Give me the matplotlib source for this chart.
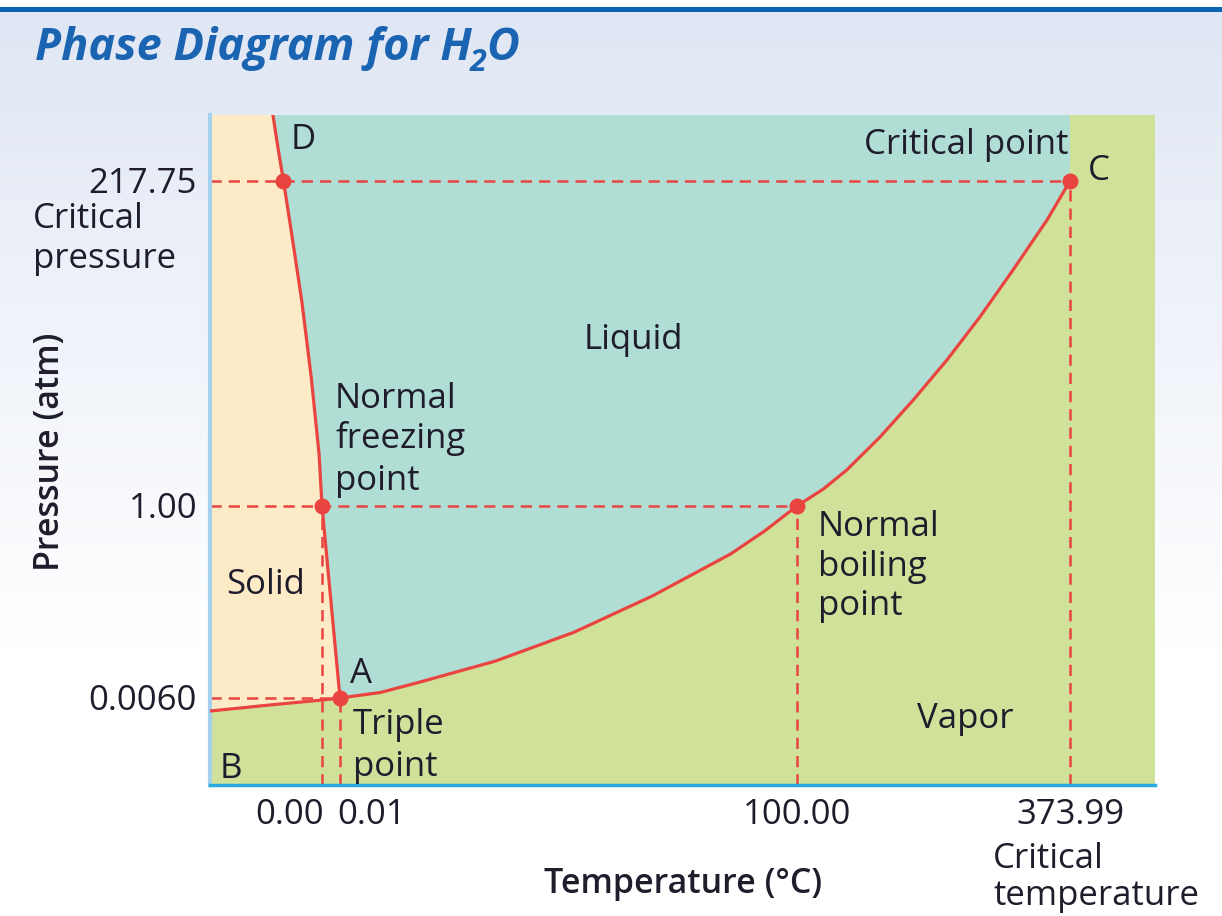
import numpy as np
import matplotlib
matplotlib.use("Agg")
import matplotlib.pyplot as plt

# ---------------- data ----------------
temp_ticks = [0.00, 0.01, 100.00, 373.99]
temp_tick_labels = ["0.00", "0.01", "100.00", "373.99"]
pres_ticks = [0.0060, 1.00, 217.75]
pres_tick_labels = ["0.0060", "1.00", "217.75"]

# marked points (temperature degC, pressure atm)
point_T = [-3.44, 0.00, 0.01, 100.00, 373.99]
point_P = [217.75, 1.00, 0.0060, 1.00, 217.75]

# phase boundaries
fusion_T = [-4.38, -3.93, -3.44, -2.83, -1.80, -0.955, -0.259, 0.00, 0.01]
fusion_P = [260.0, 238.9, 217.75, 188.5, 137.5, 86.4, 35.4, 1.00, 0.0060]

sublimation_T = [-10.0, -7.32, -4.64, 0.00, 0.01]
sublimation_P = [0.00510, 0.00531, 0.00552, 0.00586, 0.0060]

vapor_T = [0.01, 8.83, 16.84, 34.01, 51.17, 68.34, 85.50, 92.94, 100.0,
           126.4, 149.9, 183.3, 216.7, 250.5, 283.7, 316.8, 350.9, 373.99]
vapor_P = [0.0060, 0.0345, 0.0842, 0.197, 0.346, 0.534, 0.752, 0.871, 1.00,
           12.3, 25.0, 47.0, 71.7, 98.4, 127.2, 158.4, 191.7, 217.75]

T_MIN, T_MAX = -10.0, 400.0
P_MIN, P_MAX = 0.0, 260.0

# ---------------- schematic (non-linear) axis warps ----------------
T_anchor = [T_MIN, 0.00, 0.01, 100.00, 373.99, T_MAX]
T_screen = [0, 112, 130, 587, 860, 945]
P_anchor = [P_MIN, 0.0060, 1.00, 217.75, P_MAX]
P_screen = [0, 87, 279, 604, 670]

def fx(v):
    return np.interp(v, T_anchor, T_screen)
def ix(v):
    return np.interp(v, T_screen, T_anchor)
def fy(v):
    return np.interp(v, P_anchor, P_screen)
def iy(v):
    return np.interp(v, P_screen, P_anchor)

# ---------------- style ----------------
W, H = 1222, 916
RED = "#EA4440"
SOLID = "#FDEBC8"
LIQUID = "#B0DED4"
VAPOR = "#D0E29A"
TXT = "#1F1C2C"
FONT = "Open Sans"
FS = 25

plt.rcParams['font.family'] = [FONT, 'DejaVu Sans']

fig = plt.figure(figsize=(W / 100, H / 100), dpi=100)

# background gradient
bg = fig.add_axes([0, 0, 1, 1], zorder=-5)
bg.set_xlim(0, W)
bg.set_ylim(H, 0)
bg.axis('off')
rows = np.arange(H)
t = np.clip((rows - 12) / (650 - 12), 0, 1)[:, None]
top = np.array([224, 231, 244]) / 255.0
grad = top * (1 - t) + np.ones(3) * t
grad[:7] = 1.0
bg.imshow(grad[:, None, :], extent=(0, W, H, 0), aspect='auto', interpolation='bilinear')
bg.axhspan(7, 12, color="#0B64B0", lw=0)

# main axes
L, R, B, T_ = 210, 1155, 785, 115
ax = fig.add_axes([L / W, 1 - B / H, (R - L) / W, (B - T_) / H], zorder=1)
ax.set_xscale('function', functions=(fx, ix))
ax.set_yscale('function', functions=(fy, iy))
ax.set_xlim(T_MIN, T_MAX)
ax.set_ylim(P_MIN, P_MAX)
ax.set_facecolor(VAPOR)
ax.set_xticks([])
ax.set_yticks([])
ax.minorticks_off()
for s in ['top', 'right']:
    ax.spines[s].set_visible(False)
ax.spines['left'].set_color("#A4D2EE")
ax.spines['left'].set_linewidth(3)
ax.spines['bottom'].set_color("#2AA8E0")
ax.spines['bottom'].set_linewidth(2.5)

# solid region
solid_T = [T_MIN] + fusion_T + sublimation_T[::-1]
solid_P = [P_MAX] + fusion_P + sublimation_P[::-1]
ax.fill(solid_T, solid_P, color=SOLID, lw=0, zorder=1)
# liquid region
liq_T = fusion_T + vapor_T[1:] + [vapor_T[-1]]
liq_P = fusion_P + vapor_P[1:] + [P_MAX]
ax.fill(liq_T, liq_P, color=LIQUID, lw=0, zorder=1)

# guide lines
dash = (0, (4.5, 2.8))
for P in pres_ticks:
    t_end = max(tt for tt, pp in zip(point_T, point_P) if pp == P)
    ax.plot([T_MIN, t_end], [P, P], color=RED, lw=1.8, ls=dash, zorder=2)
for Tv in temp_ticks:
    p_end = max(pp for tt, pp in zip(point_T, point_P) if tt == Tv)
    ax.plot([Tv, Tv], [P_MIN, p_end], color=RED, lw=1.8, ls=dash, zorder=2)

# boundaries
for xs, ys in [(fusion_T, fusion_P), (sublimation_T, sublimation_P), (vapor_T, vapor_P)]:
    ax.plot(xs, ys, color=RED, lw=2.3, zorder=3, solid_joinstyle='round')
ax.plot(point_T, point_P, 'o', color=RED, ms=11.5, mec='none', zorder=4, clip_on=False)

# tick labels
x_off = {"0.00": -32, "0.01": 32, "100.00": 0, "373.99": 0}
for v, lab in zip(temp_ticks, temp_tick_labels):
    ax.annotate(lab, xy=(v, 0), xycoords=ax.get_xaxis_transform(),
                xytext=(x_off[lab], -39), textcoords='offset pixels',
                ha='center', va='baseline', fontsize=FS, color=TXT,
                annotation_clip=False)
for v, lab in zip(pres_ticks, pres_tick_labels):
    ax.annotate(lab, xy=(0, v), xycoords=ax.get_yaxis_transform(),
                xytext=(-13, -12), textcoords='offset pixels',
                ha='right', va='baseline', fontsize=FS, color=TXT,
                annotation_clip=False)

# overlay for annotations (pixel coordinates)
ov = fig.add_axes([0, 0, 1, 1], zorder=10)
ov.set_xlim(0, W)
ov.set_ylim(H, 0)
ov.axis('off')
ov.patch.set_alpha(0)

def txt(x, y, s, ha='left', **kw):
    kw.setdefault('fontsize', FS)
    kw.setdefault('color', TXT)
    ov.text(x, y, s, ha=ha, va='baseline', **kw)

txt(33, 228, "Critical")
txt(33, 268, "pressure")
txt(993, 868, "Critical")
txt(993, 905, "temperature")
txt(683, 893, "Temperature (\u00b0C)", ha='center', fontweight='semibold', fontsize=24.5)
ov.text(50, 452, "Pressure (atm)", rotation=90, ha='center', va='center',
        fontsize=24.5, color=TXT, fontweight='semibold')
txt(291, 149, "D")
txt(1088, 180, "C")
txt(1068, 154, "Critical point", ha='right')
txt(633, 349, "Liquid", ha='center')
txt(335, 408, "Normal")
txt(335, 448, "freezing")
txt(335, 490, "point")
txt(226, 594, "Solid")
txt(818, 536, "Normal")
txt(818, 576, "boiling")
txt(818, 615, "point")
txt(350, 683, "A")
txt(353, 734, "Triple")
txt(353, 776, "point")
txt(220, 778, "B")
txt(965, 728, "Vapor", ha='center')

# title with subscript
TITLE_C = "#1A64B2"
renderer = fig.canvas.get_renderer()
t1 = ov.text(35, 60, "Phase Diagram for H", ha='left', va='baseline', fontsize=32.5,
             fontweight='bold', fontstyle='italic', color=TITLE_C)
x1 = t1.get_window_extent(renderer).x1
t2 = ov.text(x1 - 2, 71, "2", ha='left', va='baseline', fontsize=22,
             fontweight='bold', fontstyle='italic', color=TITLE_C)
x2 = t2.get_window_extent(renderer).x1
ov.text(x2, 60, "O", ha='left', va='baseline', fontsize=32.5,
        fontweight='bold', fontstyle='italic', color=TITLE_C)

fig.savefig("out.png", dpi=100)
